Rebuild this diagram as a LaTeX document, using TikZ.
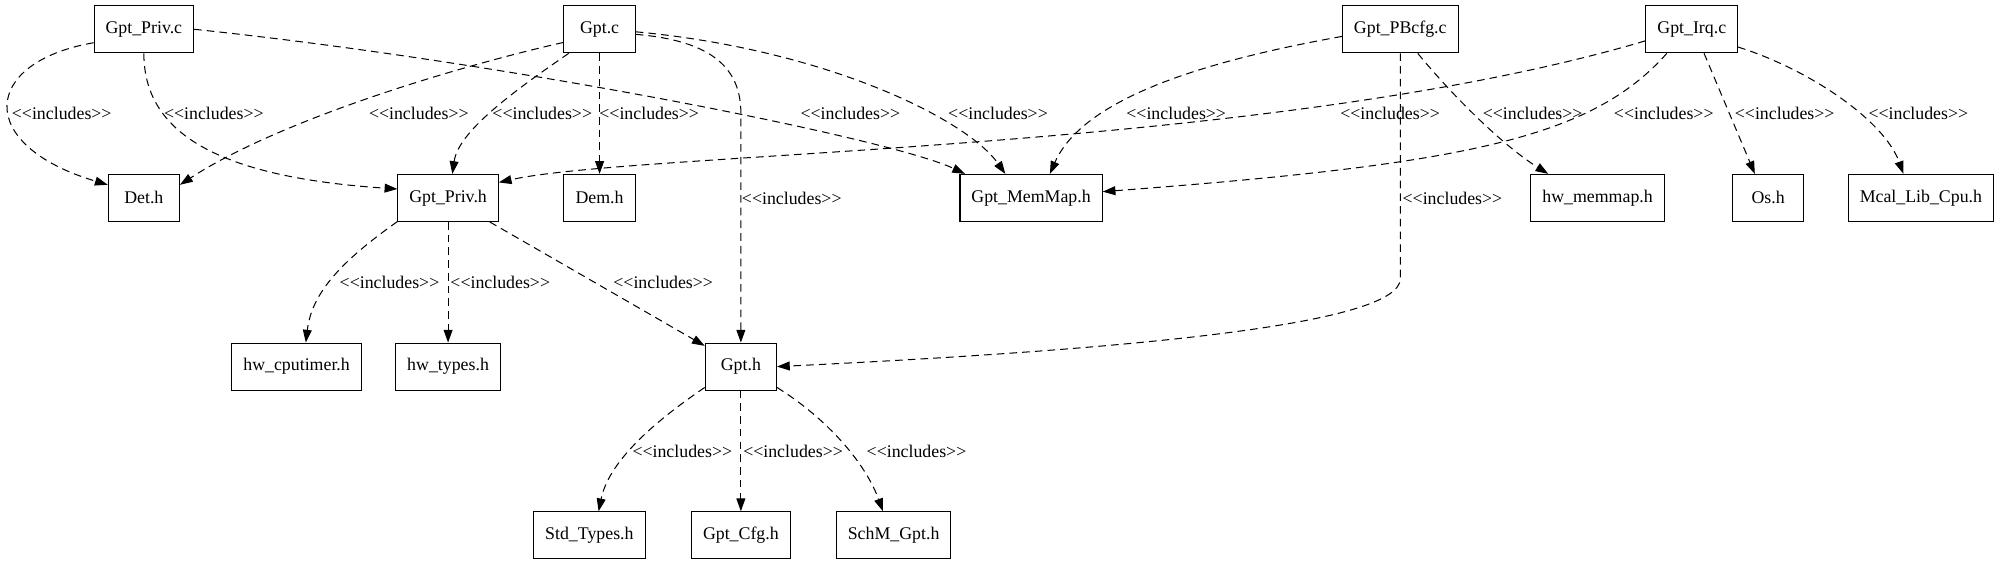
\documentclass[tikz,border=0pt]{standalone}
\usepackage{fontspec}
\setmainfont{Liberation Serif}[Ligatures=TeXOff]
\usetikzlibrary{arrows.meta}
\begin{document}
\begin{tikzpicture}[x=1pt,y=1pt,font=\fontsize{14}{16}\selectfont,
    file/.style={draw,line width=0.8pt,minimum width=56pt,minimum height=37pt,inner xsep=9pt},
    inc/.style={line width=0.8pt,dash pattern=on 6pt off 4pt,-{Triangle[length=10pt,width=7pt]}},
    lbl/.style={inner sep=0pt}]
    \useasboundingbox (0,0) rectangle (1568,444);
    \node[file] (privc) at (113,421){Gpt\_Priv.c};
    \node[file] (gptc) at (471,421){Gpt.c};
    \node[file] (pbcfgc) at (1100,421){Gpt\_PBcfg.c};
    \node[file] (irqc) at (1329,421){Gpt\_Irq.c};
    \node[file] (deth) at (113,288.5){Det.h};
    \node[file] (privh) at (352,288.5){Gpt\_Priv.h};
    \node[file] (demh) at (471,288.5){Dem.h};
    \node[file] (memmaph) at (810,288.5){Gpt\_MemMap.h};
    \node[file] (hwmemmaph) at (1255,288.5){hw\_memmap.h};
    \node[file] (osh) at (1389,288.5){Os.h};
    \node[file] (mcalh) at (1509,288.5){Mcal\_Lib\_Cpu.h};
    \node[file] (cputimerh) at (233,156){hw\_cputimer.h};
    \node[file] (hwtypesh) at (352,156){hw\_types.h};
    \node[file] (gpth) at (582,156){Gpt.h};
    \node[file] (stdtypesh) at (463,23.5){Std\_Types.h};
    \node[file] (cfgh) at (582,23.5){Gpt\_Cfg.h};
    \node[file] (schmh) at (702,23.5){SchM\_Gpt.h};

    \draw[inc] (privc.195) .. controls (-15,395) and (-20,330) .. (deth.160);
    \draw[inc] (privc.south) .. controls (113,340) and (170,305) .. (privh.170);
    \draw[inc] (privc.east) .. controls (400,395) and (700,335) .. (memmaph.160);
    \draw[inc] (gptc.200) .. controls (360,392) and (220,350) .. (deth.20);
    \draw[inc] (gptc.218) .. controls (400,370) and (360,340) .. (privh.80);
    \draw[inc] (gptc) -- (demh);
    \draw[inc] (gptc.352) .. controls (560,412) and (582,390) .. (582,355) -- (gpth);
    \draw[inc] (gptc.356) .. controls (650,405) and (760,350) .. (memmaph.137);
    \draw[inc] (pbcfgc.187) .. controls (940,395) and (850,365) .. (memmaph.52);
    \draw[inc] (pbcfgc.306) .. controls (1140,370) and (1180,330) .. (hwmemmaph.154);
    \draw[inc] (pbcfgc.south) -- (1100,225) .. controls (1100,190) and (900,170) .. (gpth.east);
    \draw[inc] (irqc.194) .. controls (1000,325) and (500,325) .. (privh.17);
    \draw[inc] (irqc.224) .. controls (1250,335) and (1150,315) .. (memmaph.5);
    \draw[inc] (irqc.297) -- (osh.119);
    \draw[inc] (irqc.339) .. controls (1420,390) and (1480,350) .. (mcalh.126);
    \draw[inc] (privh.205) .. controls (270,240) and (245,215) .. (cputimerh.69);
    \draw[inc] (privh) -- (hwtypesh);
    \draw[inc] (privh) -- (gpth);
    \draw[inc] (gpth.210) .. controls (510,110) and (478,80) .. (stdtypesh.69);
    \draw[inc] (gpth) -- (cfgh);
    \draw[inc] (gpth.330) .. controls (650,115) and (680,80) .. (schmh.114);

    \node[lbl] (l1) at (48.5,355){<<includes>>};
    \node[lbl] (l2) at (168,355){<<includes>>};
    \node[lbl] (l3) at (668,355){<<includes>>};
    \node[lbl] (l4) at (329,355){<<includes>>};
    \node[lbl] (l5) at (426,355){<<includes>>};
    \node[lbl] (l6) at (510,355){<<includes>>};
    \node[lbl] (l7) at (622,288){<<includes>>};
    \node[lbl] (l8) at (784,355){<<includes>>};
    \node[lbl] (l9) at (924,355){<<includes>>};
    \node[lbl] (l10) at (1204,355){<<includes>>};
    \node[lbl] (l11) at (1141,288){<<includes>>};
    \node[lbl] (l12) at (1092,355){<<includes>>};
    \node[lbl] (l13) at (1307,355){<<includes>>};
    \node[lbl] (l14) at (1402,355){<<includes>>};
    \node[lbl] (l15) at (1507,355){<<includes>>};
    \node[lbl] (l16) at (306,222){<<includes>>};
    \node[lbl] (l17) at (393,222){<<includes>>};
    \node[lbl] (l18) at (521,222){<<includes>>};
    \node[lbl] (l19) at (536,89.5){<<includes>>};
    \node[lbl] (l20) at (623,89.5){<<includes>>};
    \node[lbl] (l21) at (720,89.5){<<includes>>};
\end{tikzpicture}
\end{document}
